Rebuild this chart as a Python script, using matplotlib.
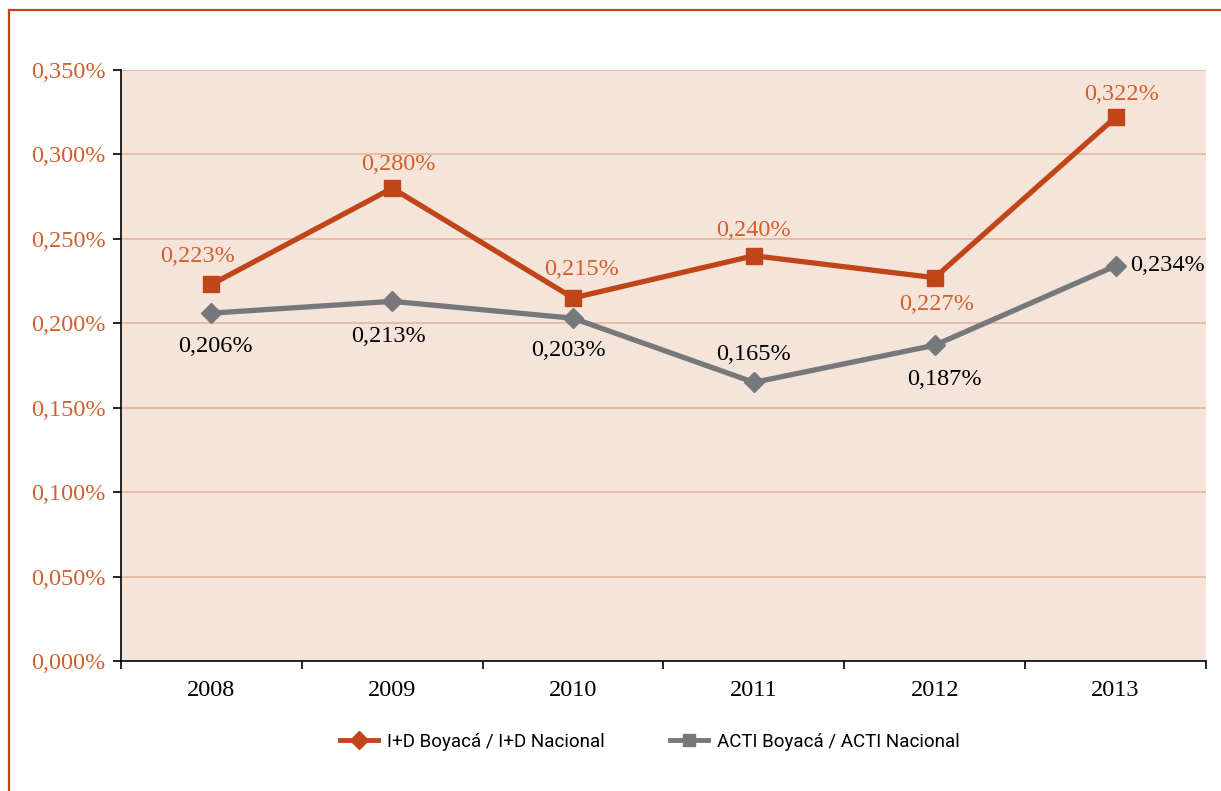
import matplotlib.pyplot as plt
from matplotlib.lines import Line2D
import numpy as np

# Data
years = ["2008", "2009", "2010", "2011", "2012", "2013"]
id_ratio = [0.223, 0.280, 0.215, 0.240, 0.227, 0.322]
acti_ratio = [0.206, 0.213, 0.203, 0.165, 0.187, 0.234]
id_name = "I+D Boyacá / I+D Nacional"
acti_name = "ACTI Boyacá / ACTI Nacional"

# label offsets (pixels) relative to each point
id_offsets = [(-14, 28), (6, 24), (8, 28), (0, 25), (2, -27), (6, 23)]
acti_offsets = [(4, -33), (-4, -35), (-5, -32), (0, 28), (10, -34), (52, 0)]

orange = "#C0461A"
gray = "#77787B"
label_orange = "#D0602E"
bg = "#F5E4DA"
grid_c = "#E8B8A0"

fig = plt.figure(figsize=(12.21, 7.91), dpi=100)
ax = fig.add_axes([121 / 1221, 1 - 661 / 791, 1085 / 1221, 591 / 791])
ax.set_facecolor(bg)

x = np.arange(len(years))
ax.plot(x, id_ratio, color=orange, lw=3.8, marker="s", ms=12, zorder=3)
ax.plot(x, acti_ratio, color=gray, lw=3.8, marker="D", ms=10, zorder=3)

serif = ["Liberation Serif", "DejaVu Serif"]
fs = 17.5
for i, v in enumerate(id_ratio):
    ax.annotate(f"{v:.3f}%".replace(".", ","), (x[i], v), xytext=id_offsets[i],
                textcoords="offset pixels", ha="center", va="center",
                fontsize=fs, color=label_orange, family=serif, zorder=4)
for i, v in enumerate(acti_ratio):
    ax.annotate(f"{v:.3f}%".replace(".", ","), (x[i], v), xytext=acti_offsets[i],
                textcoords="offset pixels", ha="center", va="center",
                fontsize=fs, color="black", family=serif, zorder=4)

ax.set_xlim(-0.5, 5.5)
ax.set_ylim(0, 0.35)
yt = np.arange(0, 0.351, 0.05)
ax.set_yticks(yt)
ax.set_yticklabels([f"{t:.3f}%".replace(".", ",") for t in yt],
                   family=serif, fontsize=fs, color=label_orange)
ax.set_xticks(x)
ax.set_xticklabels(years, family=serif, fontsize=fs)
ax.set_xticks(np.arange(-0.5, 6, 1), minor=True)
ax.tick_params(axis="x", which="major", length=0, pad=14)
ax.tick_params(axis="x", which="minor", length=6, width=1.2, direction="out")
ax.tick_params(axis="y", length=6, width=1.2, direction="out", pad=5)
for t in yt[1:]:
    ax.axhline(t, color=grid_c, lw=1.3, zorder=1)

for s in ["top", "right"]:
    ax.spines[s].set_visible(False)
ax.spines["left"].set_linewidth(1.2)
ax.spines["bottom"].set_linewidth(1.2)

# legend with the marker styles as shown in the original
handles = [
    Line2D([], [], color=orange, lw=3.5, marker="D", ms=9),
    Line2D([], [], color=gray, lw=3.5, marker="s", ms=9),
]
fig.legend(handles, [id_name, acti_name], loc="center", ncol=2,
           bbox_to_anchor=(650 / 1221, 1 - 742 / 791), frameon=False,
           prop={"family": ["Roboto", "DejaVu Sans"], "size": 13.5},
           handlelength=2.0, columnspacing=3.5, handletextpad=0.5)

# outer frame lines (top and left)
fig.add_artist(Line2D([9 / 1221, 1], [1 - 10 / 791, 1 - 10 / 791],
                      color=orange, lw=1.6, transform=fig.transFigure))
fig.add_artist(Line2D([9 / 1221, 9 / 1221], [0, 1 - 10 / 791],
                      color=orange, lw=1.6, transform=fig.transFigure))

plt.savefig("out.png", dpi=100)
